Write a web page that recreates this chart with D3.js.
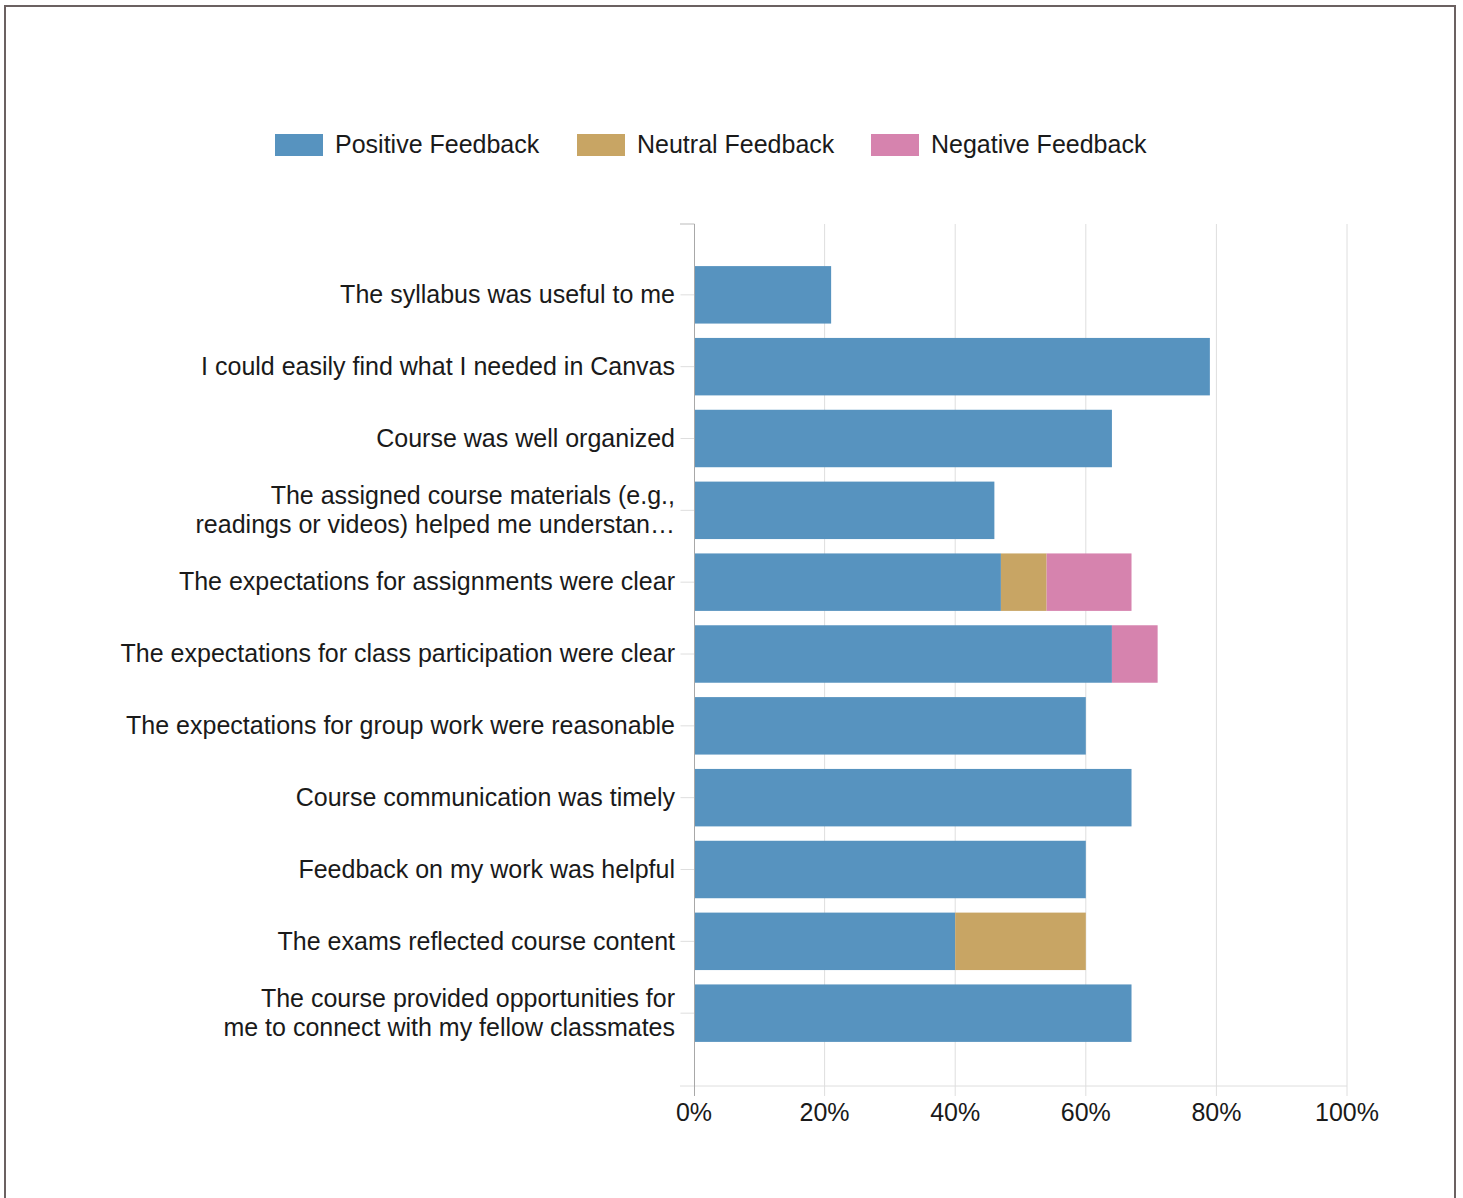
<!DOCTYPE html>
<html lang="en">
  <head>
    <meta charset="utf-8">
    <title>Course feedback</title>
    <script src="https://d3js.org/d3.v7.min.js"></script>
    <style>
      body { margin: 0; background: #fff; }
      text { font-family: "Liberation Sans", Arial, sans-serif; fill: #1a1a1a; }
    </style>
  </head>
  <body>
    <div id="chart"></div>
    <script>
      // Data
      var questions = [
        "The syllabus was useful to me",
        "I could easily find what I needed in Canvas",
        "Course was well organized",
        "The assigned course materials (e.g.,|readings or videos) helped me understan\u2026",
        "The expectations for assignments were clear",
        "The expectations for class participation were clear",
        "The expectations for group work were reasonable",
        "Course communication was timely",
        "Feedback on my work was helpful",
        "The exams reflected course content",
        "The course provided opportunities for|me to connect with my fellow classmates"
      ];
      var seriesNames = ["Positive Feedback", "Neutral Feedback", "Negative Feedback"];
      var positive = [0.21, 0.79, 0.64, 0.46, 0.47, 0.64, 0.60, 0.67, 0.60, 0.40, 0.67];
      var neutral  = [0, 0, 0, 0, 0.07, 0, 0, 0, 0, 0.20, 0];
      var negative = [0, 0, 0, 0, 0.13, 0.07, 0, 0, 0, 0, 0];
      var xTicks = [0, 0.2, 0.4, 0.6, 0.8, 1.0];
      var colors = ["#5793bf", "#c8a564", "#d683ae"];

      var W = 1463, H = 1198;
      var svg = d3.select("#chart").append("svg")
          .attr("width", W)
          .attr("height", H);

      // outer frame
      svg.append("rect")
          .attr("x", 5).attr("y", 6)
          .attr("width", 1450).attr("height", H + 10)
          .attr("fill", "none")
          .attr("stroke", "#6b6161")
          .attr("stroke-width", 2);

      var plot = {left: 694, right: 1347, top: 224, bottom: 1086};

      var x = d3.scaleLinear().domain([0, 1]).range([plot.left, plot.right]);
      var y = d3.scaleBand()
          .domain(questions)
          .range([plot.top - 1, plot.bottom - 1])
          .paddingInner(0.2)
          .paddingOuter(0.6);

      // grid lines
      svg.append("g").selectAll("line")
          .data(xTicks.slice(1))
          .enter().append("line")
          .attr("x1", function(d) { return x(d); })
          .attr("x2", function(d) { return x(d); })
          .attr("y1", plot.top)
          .attr("y2", plot.bottom + 10)
          .attr("stroke", "#dedede")
          .attr("stroke-width", 1);

      // bottom baseline
      svg.append("line")
          .attr("x1", plot.left - 14).attr("x2", plot.right)
          .attr("y1", plot.bottom).attr("y2", plot.bottom)
          .attr("stroke", "#dedede");

      // stacked bars
      var stackData = questions.map(function(q, i) {
        return {q: q, pos: positive[i], neu: neutral[i], neg: negative[i]};
      });
      var stack = d3.stack().keys(["pos", "neu", "neg"]);
      var layers = stack(stackData);

      svg.append("g").selectAll("g")
          .data(layers)
          .enter().append("g")
          .attr("fill", function(d, i) { return colors[i]; })
          .selectAll("rect")
          .data(function(d) { return d; })
          .enter().append("rect")
          .filter(function(d) { return d[1] - d[0] > 0; })
          .attr("x", function(d) { return x(d[0]); })
          .attr("width", function(d) { return x(d[1]) - x(d[0]); })
          .attr("y", function(d) { return y(d.data.q); })
          .attr("height", y.bandwidth());

      // y axis
      var yAxis = svg.append("g")
          .attr("transform", "translate(" + (plot.left + 0.5) + ",0)")
          .call(d3.axisLeft(y).tickSize(14).tickSizeOuter(0).tickFormat(""));
      yAxis.select(".domain").remove();
      yAxis.selectAll(".tick line").attr("stroke", "#dedede");

      svg.append("line")
          .attr("x1", plot.left - 14).attr("x2", plot.left + 0.5)
          .attr("y1", plot.top).attr("y2", plot.top)
          .attr("stroke", "#bbb");
      svg.append("line")
          .attr("x1", plot.left + 0.5).attr("x2", plot.left + 0.5)
          .attr("y1", plot.top).attr("y2", plot.bottom + 10)
          .attr("stroke", "#a8a8a8");

      // y labels, possibly two lines
      var labels = svg.append("g").selectAll("text")
          .data(questions)
          .enter().append("text")
          .attr("text-anchor", "end")
          .attr("font-size", 25)
          .attr("transform", function(d) {
            return "translate(" + (plot.left - 19) + "," + (y(d) + y.bandwidth() / 2) + ")";
          });
      labels.each(function(d) {
        var parts = d.split("|");
        var t = d3.select(this);
        parts.forEach(function(p, k) {
          t.append("tspan")
              .attr("x", 0)
              .attr("y", (k - (parts.length - 1) / 2) * 29)
              .attr("dy", "0.33em")
              .text(p);
        });
      });

      // x axis labels
      svg.append("g").selectAll("text")
          .data(xTicks)
          .enter().append("text")
          .attr("x", function(d) { return x(d); })
          .attr("y", plot.bottom + 35)
          .attr("text-anchor", "middle")
          .attr("font-size", 25)
          .text(d3.format(".0%"));

      // legend
      var legendX = [275, 577, 871];
      var legend = svg.append("g").selectAll("g")
          .data(seriesNames)
          .enter().append("g")
          .attr("transform", function(d, i) { return "translate(" + legendX[i] + ",134)"; });
      legend.append("rect")
          .attr("width", 48).attr("height", 22)
          .attr("fill", function(d, i) { return colors[i]; });
      legend.append("text")
          .attr("x", 60).attr("y", 11).attr("dy", "0.33em")
          .attr("font-size", 25)
          .text(function(d) { return d; });
    </script>
  </body>
</html>
